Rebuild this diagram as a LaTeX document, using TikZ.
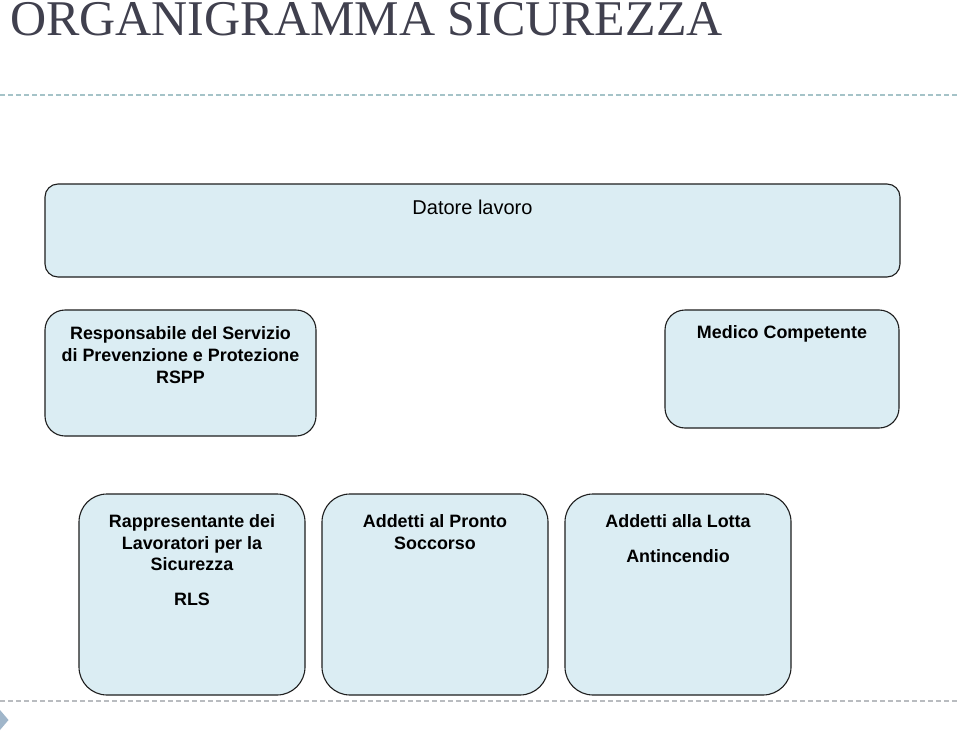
\documentclass[tikz,border=0pt]{standalone}
\usepackage{fontspec}
\setmainfont{Liberation Sans}
\newfontfamily\titlefont{Liberation Serif}
\definecolor{boxfill}{RGB}{219,237,243}
\definecolor{boxline}{RGB}{30,30,30}
\definecolor{titlecol}{RGB}{64,64,78}
\definecolor{dashtop}{RGB}{165,195,200}
\definecolor{dashbot}{RGB}{185,188,192}
\definecolor{tricol}{RGB}{160,182,202}
\begin{document}
\begin{tikzpicture}[x=1pt,y=-1pt,
  orgbox/.style={draw=boxline,fill=boxfill,line width=1.1pt,inner sep=0pt,outer sep=0pt,anchor=north west},
  bold/.style={font=\fontsize{17.9}{21}\selectfont\bfseries,anchor=base,inner sep=0pt},
  plain/.style={font=\fontsize{20}{24}\selectfont,anchor=base,inner sep=0pt},
  sep/.style={line width=1.3pt,dash pattern=on 5pt off 3pt}]
\useasboundingbox (0,0) rectangle (960,733);
\fill[white] (0,0) rectangle (960,733);
% title
\node[font=\fontsize{50}{56}\selectfont\titlefont,text=titlecol,anchor=base west,inner sep=0pt] (title) at (10,36) {ORGANIGRAMMA SICUREZZA};
% separators
\coordinate (tl) at (0,95); \coordinate (tr) at (960,95);
\coordinate (bl) at (0,701); \coordinate (br) at (960,701);
\draw[sep,dashtop] (tl) -- (tr);
\draw[sep,dashbot] (bl) -- (br);
\coordinate (ta) at (0,710); \coordinate (tb) at (8.5,720); \coordinate (tc) at (0,730);
\fill[tricol] (ta) -- (tb) -- (tc) -- cycle;
% boxes
\node[orgbox,rounded corners=13pt,minimum width=855pt,minimum height=93pt] (datore) at (45,184) {};
\node[orgbox,rounded corners=20pt,minimum width=271pt,minimum height=126pt] (rspp) at (45,310) {};
\node[orgbox,rounded corners=20pt,minimum width=234pt,minimum height=118pt] (medico) at (665,310) {};
\node[orgbox,rounded corners=28pt,minimum width=226pt,minimum height=201pt] (rls) at (79,494) {};
\node[orgbox,rounded corners=28pt,minimum width=226pt,minimum height=201pt] (ps) at (322,494) {};
\node[orgbox,rounded corners=28pt,minimum width=226pt,minimum height=201pt] (lotta) at (565,494) {};
% texts
\node[plain] (tdat) at ([yshift=-30pt]datore.north) {Datore lavoro};
\node[bold] (tr1) at ([yshift=-29pt]rspp.north) {Responsabile del Servizio};
\node[bold] (tr2) at ([yshift=-51pt]rspp.north) {di Prevenzione e Protezione};
\node[bold] (tr3) at ([yshift=-73pt]rspp.north) {RSPP};
\node[bold] (tm1) at ([yshift=-28pt]medico.north) {Medico Competente};
\node[bold] (tl1) at ([yshift=-33pt]rls.north) {Rappresentante dei};
\node[bold] (tl2) at ([yshift=-55pt]rls.north) {Lavoratori per la};
\node[bold] (tl3) at ([yshift=-76pt]rls.north) {Sicurezza};
\node[bold] (tl4) at ([yshift=-111pt]rls.north) {RLS};
\node[bold] (tp1) at ([yshift=-33pt]ps.north) {Addetti al Pronto};
\node[bold] (tp2) at ([yshift=-55pt]ps.north) {Soccorso};
\node[bold] (ta1) at ([yshift=-33pt]lotta.north) {Addetti alla Lotta};
\node[bold] (ta2) at ([yshift=-68pt]lotta.north) {Antincendio};
\end{tikzpicture}
\end{document}
